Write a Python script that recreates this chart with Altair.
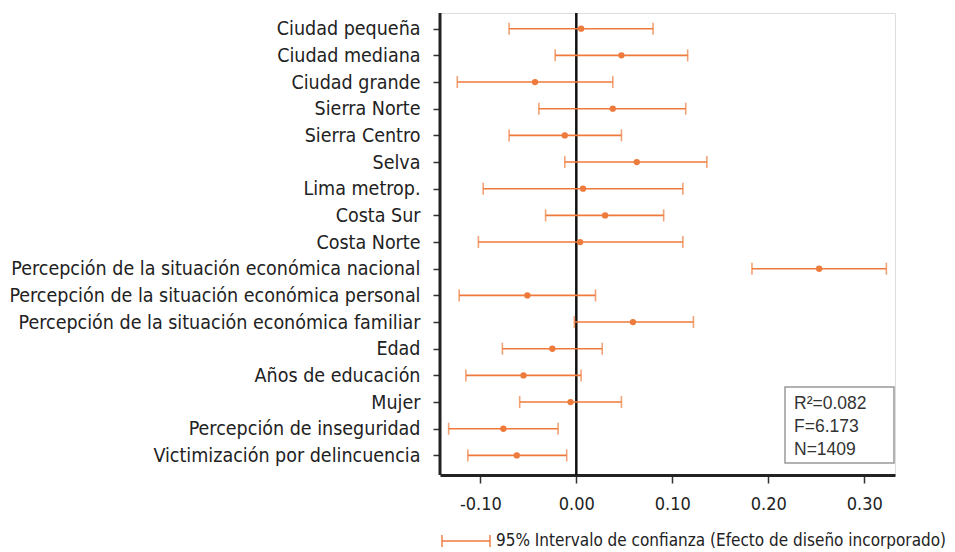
import altair as alt
import pandas as pd

variables = [
    "Ciudad pequeña", "Ciudad mediana", "Ciudad grande", "Sierra Norte",
    "Sierra Centro", "Selva", "Lima metrop.", "Costa Sur", "Costa Norte",
    "Percepción de la situación económica nacional",
    "Percepción de la situación económica personal",
    "Percepción de la situación económica familiar",
    "Edad", "Años de educación", "Mujer", "Percepción de inseguridad",
    "Victimización por delincuencia",
]
coef = [0.005, 0.047, -0.043, 0.038, -0.012, 0.063, 0.007, 0.030, 0.004,
        0.253, -0.051, 0.059, -0.025, -0.055, -0.006, -0.076, -0.062]
lower = [-0.070, -0.022, -0.124, -0.039, -0.070, -0.012, -0.097, -0.032, -0.102,
         0.183, -0.122, -0.002, -0.077, -0.115, -0.059, -0.133, -0.113]
upper = [0.080, 0.116, 0.038, 0.114, 0.047, 0.136, 0.111, 0.091, 0.111,
         0.323, 0.020, 0.122, 0.027, 0.005, 0.047, -0.019, -0.010]
x_ticks = [-0.1, 0.0, 0.1, 0.2, 0.3]
stats_lines = ["R²=0.082", "F=6.173", "N=1409"]
legend_label = "95% Intervalo de confianza (Efecto de diseño incorporado)"

df = pd.DataFrame({"var": variables, "coef": coef, "lo": lower, "hi": upper})

ORANGE = "#EE7A3C"
NARROW = "DejaVu Sans Condensed, Liberation Sans, sans-serif"

xscale = alt.Scale(domain=[-0.142, 0.332], nice=False, zero=False)
yscale = alt.Scale(type="point", padding=0, range=[15.7, 442.4])

xenc = alt.X(
    "coef:Q", scale=xscale, title=None,
    axis=alt.Axis(values=x_ticks, grid=False, domainWidth=3, domainColor="#222",
                  tickColor="#333", tickSize=8, tickWidth=1.5, labelFontSize=18,
                  labelFont=NARROW, labelColor="#222", labelPadding=12,
                  labelExpr="replace(format(datum.value, '.2f'), '−', '-')"),
)
yenc = alt.Y(
    "var:N", sort=variables, scale=yscale, title=None,
    axis=alt.Axis(domain=False, tickColor="#333", tickSize=7,
                  tickWidth=1.5, labelFontSize=19.5, labelFont=NARROW, labelColor="#222",
                  labelPadding=13, labelLimit=0),
)
ysimple = alt.Y("var:N", sort=variables, scale=yscale)

base = alt.Chart(df)
one = alt.Chart(df).transform_filter("datum.var == 'Ciudad pequeña'")

# left axis line spanning the full plot height
left_axis = one.mark_rule(color="#222", strokeWidth=3).encode(
    x=alt.value(0), y=alt.value(0), y2=alt.value(462))
zero = one.mark_rule(color="#111", strokeWidth=2.5).encode(x=alt.datum(0))

bars = base.mark_rule(color=ORANGE, strokeWidth=1.6).encode(
    x=alt.X("lo:Q", scale=xscale), x2="hi:Q", y=yenc)
caps_lo = base.mark_tick(color=ORANGE, thickness=1.6, size=12).encode(
    x=alt.X("lo:Q", scale=xscale), y=ysimple)
caps_hi = base.mark_tick(color=ORANGE, thickness=1.6, size=12).encode(
    x=alt.X("hi:Q", scale=xscale), y=ysimple)
points = base.mark_circle(color=ORANGE, size=40, opacity=1).encode(
    x=xenc, y=ysimple)

# statistics box
box = one.mark_rect(fill="white", stroke="#999", strokeWidth=1.5).encode(
    x=alt.value(345), x2=alt.value(454), y=alt.value(374), y2=alt.value(450))
stats = one.mark_text(
    align="left", baseline="top", fontSize=17.5, font="Liberation Sans",
    color="#333", lineBreak="\n", lineHeight=23).encode(
    x=alt.value(354), y=alt.value(382), text=alt.value("\n".join(stats_lines)))

# legend drawn below the axis
leg_line = one.mark_rule(color=ORANGE, strokeWidth=1.4).encode(
    x=alt.value(2), x2=alt.value(50), y=alt.value(528))
leg_cap1 = one.mark_rule(color=ORANGE, strokeWidth=1.4).encode(
    x=alt.value(2), y=alt.value(522), y2=alt.value(534))
leg_cap2 = one.mark_rule(color=ORANGE, strokeWidth=1.4).encode(
    x=alt.value(50), y=alt.value(522), y2=alt.value(534))
leg_text = one.mark_text(
    align="left", baseline="middle", fontSize=17, font=NARROW, color="#222").encode(
    x=alt.value(56), y=alt.value(528), text=alt.value(legend_label))

chart = alt.layer(
    zero, bars, caps_lo, caps_hi, points, left_axis, box, stats,
    leg_line, leg_cap1, leg_cap2, leg_text,
).properties(
    width=455, height=462,
    autosize=alt.AutoSizeParams(type="none"),
    padding={"left": 432, "top": 5, "right": 52, "bottom": 74},
).configure_view(stroke="transparent").configure(background="white")

chart.save("out.html", embed_options={"renderer": "svg", "actions": False})
